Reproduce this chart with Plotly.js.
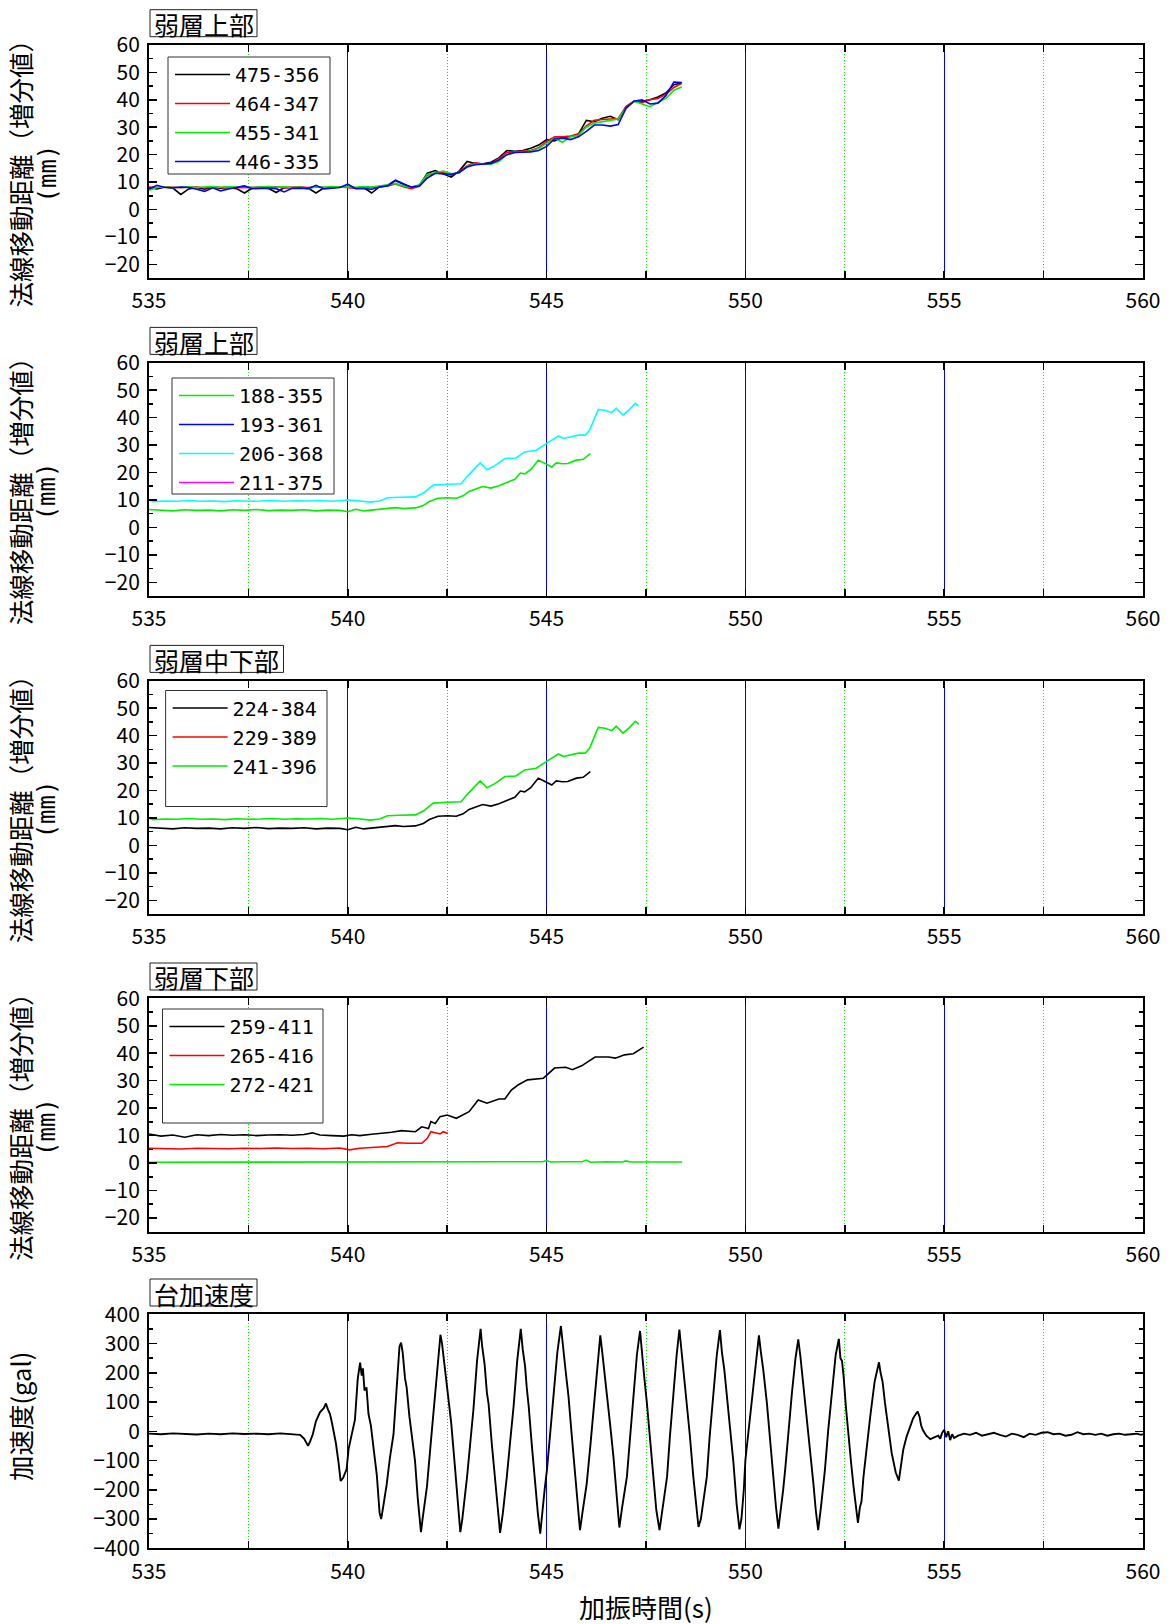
<!DOCTYPE html>
<html><head><meta charset="utf-8">
<script src="https://cdn.plot.ly/plotly-3.0.1.min.js"></script>
<style>body{margin:0;background:#fff}#chart{width:1174px;height:1624px}</style>
</head><body><div id="chart"></div>
<script>
// ---------- panel titles / labels ----------
const panelTitles = ['弱層上部', '弱層上部', '弱層中下部', '弱層下部', '台加速度'];
const dispTitle = '法線移動距離（増分値）';
const dispUnit = '(mm)';
const accTitle = '加速度(gal)';
const timeTitle = '加振時間(s)';

// ---------- panel 1 : 弱層上部 ----------
const t1 = [535.0,535.2,535.4,535.6,535.8,536.0,536.2,536.4,536.6,536.8,537.0,537.2,537.4,537.6,537.8,538.0,538.2,538.4,538.6,538.8,539.0,539.2,539.4,539.6,539.8,540.0,540.2,540.4,540.6,540.8,541.0,541.2,541.4,541.6,541.8,542.0,542.2,542.4,542.6,542.8,543.0,543.2,543.4,543.6,543.8,544.0,544.2,544.4,544.6,544.8,545.0,545.2,545.4,545.6,545.8,546.0,546.2,546.4,546.6,546.8,547.0,547.2,547.4,547.6,547.8,548.0,548.2,548.4];
const s475_356 = [8.0,7.5,8.2,7.8,5.5,7.5,8.0,7.4,8.1,7.8, 8.0,7.6,6.0,7.8,8.1,7.7,6.2,8.0,7.9,8.2, 7.8,6.0,7.9,7.9,8.3, 8.0,7.9,8.0,6.0,8.3, 8.8,10.7,9.3,8.0,8.8, 13.2,14.2,13.0,11.8,14.0, 17.5,16.8,16.7,17.2,18.8, 21.5,21.2,21.5,22.3,23.5, 25.5,25.0,26.3,26.5,27.5, 32.5,32.0,33.3,34.0,32.7, 37.5,39.5,39.5,40.0,41.0, 42.5,45.5,46.2];
const s464_347 = [8.2,8.0,8.3,8.0,7.9,8.1,8.2,7.9,8.0,8.2, 8.1,7.9,8.0,8.2,8.1,8.0,8.3,7.9,8.2,8.1, 8.0,8.3,8.0,7.9,8.2, 8.0,7.8,7.9,8.0,8.2, 8.6,9.3,8.3,7.6,8.5, 12.5,13.2,13.5,12.5,13.8, 16.0,17.0,16.5,16.8,18.5, 20.8,21.0,21.3,21.5,22.5, 24.8,26.5,26.5,26.8,27.5, 30.5,32.5,32.8,33.0,33.2, 37.5,39.5,39.0,40.0,40.5, 42.0,44.5,46.0];
const s455_341 = [7.0,8.0,8.2,7.9,8.1,8.3,8.0,8.2,8.4,8.1, 8.3,8.2,8.4,8.0,8.3,8.4,8.1,8.3,8.0,8.2, 7.5,8.3,8.1,8.4,8.2, 8.3,8.1,8.4,8.2,8.5, 9.0,9.5,8.6,8.2,9.0, 12.8,13.5,14.0,13.0,13.3, 15.8,16.5,16.7,16.5,17.5, 20.0,20.8,21.0,21.3,22.2, 24.0,26.0,24.5,26.5,27.0, 30.0,31.5,32.0,32.3,33.0, 37.0,39.5,38.5,37.5,39.0, 40.5,43.5,44.7];
const s446_335 = [7.5,8.8,8.0,7.9,8.2,8.0,7.4,6.6,7.9,6.8, 7.5,8.0,8.6,7.6,7.7,7.8,7.6,6.4,7.7,7.8, 7.6,8.8,7.5,7.8,8.0, 9.2,7.6,7.6,7.4,8.2, 8.6,10.5,9.2,8.2,8.5, 11.5,13.2,13.0,12.8,13.5, 15.5,16.3,16.5,16.8,18.0, 20.0,20.8,21.0,21.0,21.5, 23.0,25.8,26.0,25.5,26.5, 28.5,30.8,30.8,30.4,31.0, 37.0,39.5,40.0,38.5,38.8, 41.5,46.5,46.3];

// ---------- panel 2 : 弱層上部 ----------
const t188_355 = [535.0,535.3,535.6,535.9,536.2,536.5,536.8,537.1,537.4,537.7, 538.0,538.3,538.6,538.9,539.2,539.5,539.8,540.0,540.2,540.4, 540.6,540.8,541.0,541.2,541.4,541.7,541.9,542.05,542.27,542.5, 542.73,542.9,543.05,543.2,543.39,543.6,543.8,544.06,544.2,544.34, 544.45,544.6,544.79,544.96,545.13,545.24,545.4,545.53,545.75,545.92, 546.1];
const s188_355 = [6.5,6.3,6.0,6.4,6.2,6.3,6.0,6.4,6.2,6.5, 6.1,6.3,6.2,6.4,6.0,6.3,6.2,5.7,6.6,6.0, 6.3,6.5,6.9,7.2,6.9,7.1,8.0,9.4,10.6,10.8, 10.6,11.5,13.1,13.8,14.9,14.3,15.2,16.7,17.5,19.8, 19.5,21.0,24.5,23.3,22.0,23.5,23.2,23.3,24.5,24.8, 26.9];
const t193_361 = [535.0];   // no trace visible in the chart
const s193_361 = [null];
const t206_368 = [535.0,535.1,535.4,535.7,536.0,536.3,536.6,536.9,537.2,537.5, 537.8,538.1,538.4,538.7,539.0,539.3,539.6,539.9,540.0,540.2, 540.4,540.57,540.8,541.0,541.3,541.7,541.9,542.15,542.5,542.85, 543.0,543.16,543.33,543.5,543.7,543.95,544.23,544.45,544.74,545.02, 545.3,545.42,545.6,545.8,545.97,546.08,546.3,546.47,546.64,546.75, 546.92,547.09,547.23,547.32];
const s206_368 = [10.0,9.4,9.6,9.5,9.8,9.5,9.6,9.4,9.7,9.5, 9.6,9.8,9.5,9.7,9.6,9.8,9.5,9.7,10.0,9.8, 9.5,9.2,9.6,10.8,11.0,11.1,12.5,15.4,15.7,15.9, 18.5,21.0,23.5,21.0,22.5,25.1,25.3,27.5,28.1,30.8, 33.3,32.4,33.0,33.6,33.6,35.4,43.0,42.7,41.8,43.4, 40.9,43.0,45.2,44.2];
const t211_375 = [535.0];   // no trace visible in the chart
const s211_375 = [null];

// ---------- panel 3 : 弱層中下部 ----------
const t224_384 = [535.0,535.3,535.6,535.9,536.2,536.5,536.8,537.1,537.4,537.7, 538.0,538.3,538.6,538.9,539.2,539.5,539.8,540.0,540.2,540.4, 540.6,540.8,541.0,541.2,541.4,541.7,541.9,542.05,542.27,542.5, 542.73,542.9,543.05,543.2,543.39,543.6,543.8,544.06,544.2,544.34, 544.45,544.6,544.79,544.96,545.13,545.24,545.4,545.53,545.75,545.92, 546.1];
const s224_384 = [6.5,6.3,6.0,6.4,6.2,6.3,6.0,6.4,6.2,6.5, 6.1,6.3,6.2,6.4,6.0,6.3,6.2,5.7,6.6,6.0, 6.3,6.5,6.9,7.2,6.9,7.1,8.0,9.4,10.6,10.8, 10.6,11.5,13.1,13.8,14.9,14.3,15.2,16.7,17.5,19.8, 19.5,21.0,24.5,23.3,22.0,23.5,23.2,23.3,24.5,24.8, 26.9];
const t229_389 = [535.0];   // no trace visible in the chart
const s229_389 = [null];
const t241_396 = [535.0,535.1,535.4,535.7,536.0,536.3,536.6,536.9,537.2,537.5, 537.8,538.1,538.4,538.7,539.0,539.3,539.6,539.9,540.0,540.2, 540.4,540.57,540.8,541.0,541.3,541.7,541.9,542.15,542.5,542.85, 543.0,543.16,543.33,543.5,543.7,543.95,544.23,544.45,544.74,545.02, 545.3,545.42,545.6,545.8,545.97,546.08,546.3,546.47,546.64,546.75, 546.92,547.09,547.23,547.32];
const s241_396 = [10.0,9.4,9.6,9.5,9.8,9.5,9.6,9.4,9.7,9.5, 9.6,9.8,9.5,9.7,9.6,9.8,9.5,9.7,10.0,9.8, 9.5,9.2,9.6,10.8,11.0,11.1,12.5,15.4,15.7,15.9, 18.5,21.0,23.5,21.0,22.5,25.1,25.3,27.5,28.1,30.8, 33.3,32.4,33.0,33.6,33.6,35.4,43.0,42.7,41.8,43.4, 40.9,43.0,45.2,44.2];

// ---------- panel 4 : 弱層下部 ----------
const t259_411 = [535.0,535.3,535.6,535.9,536.2,536.5,536.8,537.1,537.4,537.7, 538.0,538.3,538.6,538.9,539.11,539.3,539.6,539.9,540.1,540.3, 540.6,540.9,541.1,541.35,541.7,541.86,542.03,542.09,542.2,542.32, 542.5,542.73,543.05,543.28,543.5,543.8,543.95,544.12,544.29,544.52, 544.74,544.92,545.2,545.48,545.65,545.88,546.22,546.56,546.73,546.96, 547.18,547.44];
const s259_411 = [10.6,9.8,10.2,9.4,10.3,10.0,10.4,10.1,10.3,10.0, 10.2,10.3,10.1,10.4,11.0,10.2,10.0,9.8,10.3,10.0, 10.5,10.8,11.2,11.8,11.4,13.2,12.6,15.1,14.4,16.9, 17.5,16.3,18.7,23.0,21.8,23.3,23.3,26.7,28.5,30.3, 30.6,30.9,34.6,34.9,34.0,35.4,38.6,38.6,38.2,39.4, 39.8,42.2];
const t265_416 = [535.0,535.4,535.8,536.2,536.6,537.0,537.4,537.8,538.2,538.6, 539.0,539.4,539.8,540.05,540.3,540.6,541.0,541.25,541.5,541.86, 542.0,542.09,542.2,542.32,542.4,542.52];
const s265_416 = [5.4,5.3,5.1,5.4,5.3,5.2,5.4,5.3,5.5,5.3, 5.4,5.2,5.5,4.8,5.4,5.6,6.0,7.4,7.2,7.2, 9.0,11.4,11.1,10.6,11.4,10.8];
const t272_421 = [535.0,535.5,536.0,536.5,537.0,537.5,538.0,538.5,539.0,539.5, 540.0,540.5,541.0,541.5,542.0,542.5,543.0,543.5,544.0,544.5, 544.9,545.0,545.1,545.5,545.9,546.0,546.1,546.5,546.9,547.0, 547.1,547.5,548.0,548.41];
const s272_421 = [0.3,0.3,0.4,0.3,0.4,0.4,0.3,0.4,0.4,0.3, 0.4,0.4,0.3,0.4,0.4,0.3,0.4,0.4,0.3,0.5, 0.5,0.9,0.4,0.5,0.5,1.1,0.3,0.5,0.4,0.8, 0.4,0.4,0.4,0.4];

// ---------- panel 5 : 台加速度 ----------
const accTime = [
535.0,535.3,535.6,535.9,536.2,536.5,536.8,537.1,537.4,537.7,
538.0,538.3,538.6,538.8,538.9,539.0,539.05,539.12,539.2,539.3,
539.4,539.45,539.5,539.55,539.6,539.7,539.77,539.82,539.88,539.93,
539.97,540.02,540.1,540.18,540.25,540.31,540.35,540.38,540.42,540.47,
540.52,540.58,540.65,540.73,540.8,540.84,540.9,540.98,541.06,541.15,
541.22,541.3,541.34,541.38,541.44,541.48,541.55,541.62,541.69,541.76,
541.84,541.88,541.94,541.99,542.08,542.16,542.25,542.33,542.37,542.43,
542.48,542.53,542.6,542.7,542.77,542.83,542.88,542.94,543.0,543.08,
543.16,543.25,543.34,543.38,543.44,543.5,543.54,543.62,543.71,543.78,
543.83,543.9,543.95,544.0,544.08,544.17,544.26,544.35,544.4,544.46,
544.5,544.55,544.63,544.71,544.78,544.84,544.9,544.95,545.01,545.09,
545.17,545.27,545.36,545.4,545.46,545.5,545.55,545.63,545.72,545.78,
545.84,545.9,545.95,546.01,546.1,546.18,546.27,546.35,546.4,546.46,
546.52,546.6,546.68,546.76,546.83,546.9,546.96,547.02,547.1,547.19,
547.27,547.35,547.4,547.46,547.52,547.56,547.62,547.69,547.76,547.84,
547.9,547.96,548.03,548.1,548.19,548.27,548.34,548.39,548.45,548.53,
548.6,548.69,548.76,548.82,548.88,548.95,549.03,549.1,549.2,549.28,
549.36,549.41,549.47,549.53,549.61,549.7,549.78,549.85,549.9,549.96,
550.0,550.08,550.16,550.26,550.34,550.39,550.45,550.54,550.62,550.7,
550.77,550.83,550.9,550.95,551.0,551.08,551.17,551.26,551.33,551.38,
551.45,551.54,551.62,551.71,551.77,551.83,551.9,551.95,552.0,552.08,
552.17,552.27,552.35,552.39,552.43,552.47,552.53,552.59,552.66,552.72,
552.78,552.83,552.88,552.92,552.97,553.05,553.14,553.25,553.32,553.36,
553.4,553.45,553.51,553.6,553.68,553.78,553.86,553.91,553.97,554.05,
554.14,554.22,554.29,554.33,554.38,554.42,554.46,554.55,554.65,554.75,
554.85,554.9,554.95,555.0,555.05,555.1,555.15,555.2,555.25,555.35,
555.5,555.65,555.8,555.95,556.1,556.25,556.4,556.55,556.7,556.85,
557.0,557.15,557.3,557.45,557.6,557.75,557.9,558.05,558.2,558.35,
558.5,558.65,558.8,558.95,559.1,559.25,559.4,559.55,559.7,559.85,
559.95,560.0];
const accGal = [
-8,-10,-7,-9,-11,-8,-10,-7,-9,-8,
-10,-7,-9,-12,-25,-50,-35,-10,35,65,
80,95,75,60,30,-40,-110,-170,-160,-140,
-130,-60,-10,40,180,235,190,215,140,150,
60,20,-60,-150,-280,-300,-250,-180,-90,-10,
130,290,303,270,180,150,50,-20,-100,-230,
-345,-300,-240,-190,-50,75,230,330,300,230,
170,130,30,-130,-250,-345,-300,-230,-155,-40,
75,240,350,290,230,130,95,-40,-180,-280,
-347,-280,-220,-155,-40,85,240,350,280,220,
150,85,-50,-180,-280,-350,-260,-200,-130,0,
130,270,360,300,230,180,120,-10,-155,-260,
-338,-280,-240,-178,-50,74,220,328,270,200,
120,20,-86,-220,-329,-260,-210,-155,-20,130,
260,343,280,180,100,40,-60,-178,-270,-338,
-280,-230,-155,-20,131,260,348,280,200,108,
-10,-155,-250,-327,-300,-230,-155,-20,131,260,
346,270,210,130,17,-109,-250,-335,-300,-200,
-98,0,97,230,328,270,210,97,-30,-155,
-260,-333,-260,-200,-132,0,131,250,314,260,
170,51,-60,-178,-270,-338,-260,-200,-132,0,
131,260,316,250,240,188,80,-18,-110,-189,
-270,-313,-260,-240,-155,-50,51,170,220,236,
200,170,97,0,-75,-140,-169,-120,-63,-20,
17,45,60,68,50,20,5,-15,-27,-20,
-15,-25,-5,5,-20,0,-30,-10,-23,-15,
-8,-12,-5,-15,-10,-5,-12,-18,-8,-12,
-20,-8,-12,-5,-3,-10,-8,-15,-12,-3,
-10,-8,-12,-8,-15,-10,-8,-12,-10,-8,
-12,-10];

// ---------- geometry helpers ----------
const W = 1174, H = 1624, L = 149, R = 31, PW = W - L - R;
const FONT = '"Noto Sans CJK JP", "Noto Sans CJK SC", sans-serif';
const MONO = '"DejaVu Sans Mono", monospace';
const panelPx = [[45,278],[362.7,596],[680.7,914],[998.3,1231.7],[1314.3,1548.3]];
const px2x = p => (p - L) / PW;
const py = p => 1 - p / H;

const traces = [];
function addLine(panel, name, x, y, color, legend, width) {
  const sfx = panel === 0 ? '' : String(panel + 1);
  traces.push({
    type: 'scatter', mode: 'lines', name: name, x: x, y: y,
    xaxis: 'x' + sfx, yaxis: 'y' + sfx,
    line: {color: color, width: width || 1.6},
    legend: legend || 'legend', showlegend: !!legend
  });
}
addLine(0, '475-356', t1, s475_356, '#000000', 'legend');
addLine(0, '464-347', t1, s464_347, '#ff0000', 'legend');
addLine(0, '455-341', t1, s455_341, '#00ee00', 'legend');
addLine(0, '446-335', t1, s446_335, '#0000ff', 'legend');
addLine(1, '188-355', t188_355, s188_355, '#00ee00', 'legend2');
addLine(1, '193-361', t193_361, s193_361, '#0000ff', 'legend2');
addLine(1, '206-368', t206_368, s206_368, '#00ffff', 'legend2');
addLine(1, '211-375', t211_375, s211_375, '#ff00ff', 'legend2');
addLine(2, '224-384', t224_384, s224_384, '#000000', 'legend3');
addLine(2, '229-389', t229_389, s229_389, '#ff0000', 'legend3');
addLine(2, '241-396', t241_396, s241_396, '#00ee00', 'legend3');
addLine(3, '259-411', t259_411, s259_411, '#000000', 'legend4');
addLine(3, '265-416', t265_416, s265_416, '#ff0000', 'legend4');
addLine(3, '272-421', t272_421, s272_421, '#00ee00', 'legend4');
addLine(4, '台加速度', accTime, accGal, '#000000', null, 1.9);

const layout = {
  width: W, height: H,
  margin: {l: L, r: R, t: 0, b: 0, pad: 0},
  paper_bgcolor: '#ffffff', plot_bgcolor: '#ffffff',
  font: {family: FONT, size: 21, color: '#000'},
  hovermode: false,
  showlegend: true,
  annotations: [], shapes: []
};

function xAxis(i) {
  const sfx = i === 0 ? '' : String(i + 1);
  return {
    domain: [0, 1], anchor: 'y' + sfx, range: [535, 560],
    tick0: 535, dtick: 5, ticks: 'inside', ticklen: 7, tickwidth: 1.5, tickcolor: '#000',
    showline: true, linewidth: 2, linecolor: '#000', mirror: 'ticks',
    showgrid: true, gridcolor: '#0000ff', gridwidth: 1, zeroline: false,
    ticklabelstandoff: 3,
    tickfont: {family: FONT, size: 21, color: '#000'},
    minor: {tick0: 535, dtick: 2.5, ticks: 'inside', ticklen: 7, tickwidth: 1.5, tickcolor: '#000',
            showgrid: true, gridcolor: '#00ee00', griddash: '1px,2px', gridwidth: 1}
  };
}
function yAxis(i) {
  const sfx = i === 0 ? '' : String(i + 1);
  const acc = i === 4;
  const [top, bot] = panelPx[i];
  return {
    domain: [py(bot), py(top)], anchor: 'x' + sfx,
    range: acc ? [-400, 400] : [-25, 60],
    tick0: 0, dtick: acc ? 100 : 10,
    ticks: 'inside', ticklen: 8, tickwidth: 1.5, tickcolor: '#000',
    showline: true, linewidth: 2, linecolor: '#000', mirror: 'ticks',
    showgrid: false, zeroline: false,
    ticklabelstandoff: 3,
    tickfont: {family: FONT, size: 21, color: '#000'},
    minor: {tick0: 0, dtick: acc ? 50 : 5, ticks: 'inside', ticklen: 4, tickwidth: 1.5, tickcolor: '#000', showgrid: false}
  };
}
for (let i = 0; i < 5; i++) {
  const sfx = i === 0 ? '' : String(i + 1);
  layout['xaxis' + sfx] = xAxis(i);
  layout['yaxis' + sfx] = yAxis(i);
  const [top, bot] = panelPx[i];
  // boxed panel title (frame + text)
  const boxBot = top - 8.3, boxTop = boxBot - 27;
  const boxW = panelTitles[i].length * 26.5 + 1;
  layout.shapes.push({type: 'rect', xref: 'paper', yref: 'paper', x0: px2x(150), x1: px2x(150 + boxW),
    y0: py(boxBot), y1: py(boxTop), fillcolor: '#ffffff', line: {color: '#222', width: 1}, layer: 'above'});
  layout.annotations.push({
    text: panelTitles[i], xref: 'paper', yref: 'paper',
    x: px2x(150 + boxW / 2), y: py((boxTop + boxBot) / 2 + 1), xanchor: 'center', yanchor: 'middle',
    showarrow: false, font: {family: FONT, size: 25, color: '#000'}
  });
  // y-axis titles
  if (i < 4) {
    const mid = (top + bot) / 2;
    layout.annotations.push({text: dispTitle, xref: 'paper', yref: 'paper', x: px2x(19), y: py(mid + 6),
      xanchor: 'center', yanchor: 'middle', textangle: -90, showarrow: false, font: {family: FONT, size: 25.5, color: '#000'}});
    layout.annotations.push({text: dispUnit, xref: 'paper', yref: 'paper', x: px2x(47), y: py(mid + 12),
      xanchor: 'center', yanchor: 'middle', textangle: -90, showarrow: false, font: {family: MONO, size: 24, color: '#000'}});
  } else {
    layout.annotations.push({text: accTitle, xref: 'paper', yref: 'paper', x: px2x(19), y: py(1417),
      xanchor: 'center', yanchor: 'middle', textangle: -90, showarrow: false, font: {family: FONT, size: 25.5, color: '#000'}});
  }
}
layout.annotations.push({text: timeTitle, xref: 'paper', yref: 'paper', x: px2x(646), y: py(1606),
  xanchor: 'center', yanchor: 'middle', showarrow: false, font: {family: FONT, size: 26, color: '#000'}});

// legends (frame drawn as a rectangle so that its size follows the reference)
const legBoxes = [[168,57,330,174],[172,378,334,494],[165.6,690.5,327,806.5],[162.5,1009,323,1123]];
['legend','legend2','legend3','legend4'].forEach((k, i) => {
  const b = legBoxes[i];
  layout.shapes.push({type: 'rect', xref: 'paper', yref: 'paper', x0: px2x(b[0]), x1: px2x(b[2]),
    y0: py(b[1]), y1: py(b[3]), fillcolor: '#ffffff', line: {color: '#333', width: 1}, layer: 'above'});
  layout[k] = {
    x: px2x(b[0] + 2), y: py(b[1] - 2), xanchor: 'left', yanchor: 'top',
    bgcolor: 'rgba(0,0,0,0)', borderwidth: 0, itemwidth: 55, tracegroupgap: 0,
    font: {family: MONO, size: 20, color: '#000'}
  };
});

Plotly.newPlot('chart', traces, layout, {staticPlot: true});
</script>
</body></html>
